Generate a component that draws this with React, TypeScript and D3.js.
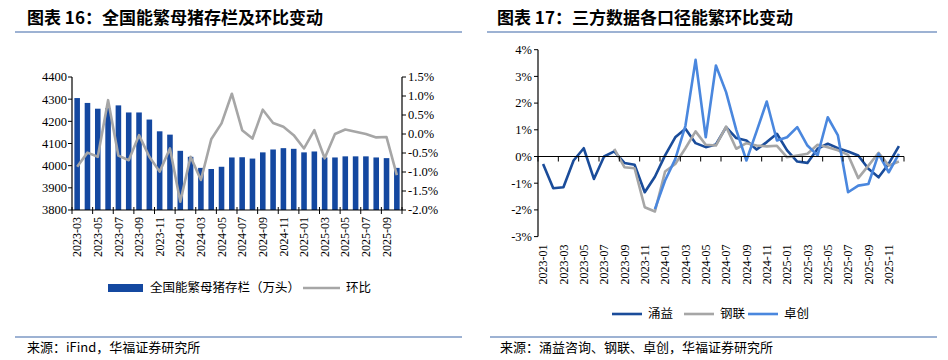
import React from 'react';
import * as d3 from 'd3';

// 图表16：全国能繁母猪存栏（万头）及环比（%）
const sowMonths = [
  '2023-03', '2023-04', '2023-05', '2023-06', '2023-07', '2023-08', '2023-09', '2023-10',
  '2023-11', '2023-12', '2024-01', '2024-02', '2024-03', '2024-04', '2024-05', '2024-06',
  '2024-07', '2024-08', '2024-09', '2024-10', '2024-11', '2024-12', '2025-01', '2025-02',
  '2025-03', '2025-04', '2025-05', '2025-06', '2025-07', '2025-08', '2025-09', '2025-10',
];
const sowStock = [
  4305, 4283, 4257, 4260, 4272, 4240, 4240, 4208, 4155, 4140, 4067, 4040, 3990, 3985, 3995, 4037,
  4038, 4032, 4060, 4073, 4079, 4076, 4060, 4064, 4037, 4037, 4042, 4042, 4042, 4037, 4034, 3990,
];
const sowMoM = [
  -0.86, -0.49, -0.6, 0.89, -0.57, -0.69, -0.03, -0.6, -0.99, -0.38, -1.78, -0.6, -1.21, -0.14, 0.28, 1.06,
  0.1, -0.12, 0.64, 0.29, 0.19, -0.03, -0.38, 0.1, -0.64, 0.0, 0.12, 0.06, 0.0, -0.09, -0.08, -1.08,
];
const leftTicks = [3800, 3900, 4000, 4100, 4200, 4300, 4400];
const rightTicks = [-2.0, -1.5, -1.0, -0.5, 0.0, 0.5, 1.0, 1.5];

// 图表17：三方数据环比（%）
const srcMonths = [
  '2023-01', '2023-02', '2023-03', '2023-04', '2023-05', '2023-06', '2023-07', '2023-08', '2023-09',
  '2023-10', '2023-11', '2023-12', '2024-01', '2024-02', '2024-03', '2024-04', '2024-05', '2024-06',
  '2024-07', '2024-08', '2024-09', '2024-10', '2024-11', '2024-12', '2025-01', '2025-02', '2025-03',
  '2025-04', '2025-05', '2025-06', '2025-07', '2025-08', '2025-09', '2025-10', '2025-11', '2025-12',
];
const yongyi = [
  -0.28, -1.19, -1.15, -0.15, 0.31, -0.84, 0.0, 0.19, -0.24, -0.31, -1.34, -0.76,
  0.04, 0.72, 1.04, 0.5, 0.35, 0.45, 1.1, 0.69, 0.6, 0.26, 0.54, 0.85,
  0.23, -0.19, -0.24, 0.29, 0.48, 0.31, 0.19, 0.04, -0.46, -0.78, -0.27, 0.39,
];
const ganglian = [
  null, null, null, null, null, null, null, 0.29, -0.4, -0.44, -1.9, -2.06,
  -0.56, -0.28, 0.31, 0.94, 0.44, 0.41, 1.12, 0.29, 0.5, 0.41, 0.38, 0.4,
  -0.03, 0.04, 0.1, 0.44, 0.35, 0.23, 0.06, -0.81, -0.34, 0.14, -0.34, -0.19,
];
const zhuochuang = [
  null, null, null, null, null, null, null, null, null, null, null, -1.97,
  -0.9, -0.1, 1.15, 3.62, 0.72, 3.41, 2.41, 1.0, -0.15, 0.94, 2.06, 0.6,
  0.72, 1.1, 0.41, 0.04, 1.47, 0.79, -1.34, -1.09, -1.03, 0.1, -0.59, 0.1,
];
const pctTicks = [-3, -2, -1, 0, 1, 2, 3, 4];

const SERIF = '"Liberation Serif", "Times New Roman", "Noto Sans CJK SC", serif';
const CJK = '"Noto Sans CJK SC", "Liberation Serif", sans-serif';
const BAR = '#1448A0';
const GREY = '#A6A6A6';
const DARK = '#1A4C9A';
const LIGHT = '#4A87DE';
const RULE = '#7D98C4';

function LeftChart() {
  const x0 = 72, x1 = 402, yTop = 77, yBot = 210;
  const x = d3.scaleBand<string>().domain(sowMonths).range([x0, x1]).paddingInner(0.46).paddingOuter(0.23);
  const yL = d3.scaleLinear().domain([3800, 4400]).range([yBot, yTop]);
  const yR = d3.scaleLinear().domain([-2.0, 1.5]).range([yBot, yTop]);
  const step = x.step();
  const line = d3.line<number>()
    .x((_, i) => (x(sowMonths[i]) as number) + x.bandwidth() / 2)
    .y((d) => yR(d));
  const boundaries = d3.range(0, sowMonths.length + 1, 2);
  return (
    <g>
      {sowMonths.map((m, i) => (
        <rect key={m} x={x(m)} y={yL(sowStock[i])} width={x.bandwidth()} height={yBot - yL(sowStock[i])} fill={BAR} />
      ))}
      <path d={line(sowMoM) || ''} fill="none" stroke={GREY} strokeWidth={2.6} strokeLinejoin="round" />
      {/* left axis */}
      <line x1={x0} x2={x0} y1={yTop} y2={yBot} stroke="#000" strokeWidth={1.2} />
      {leftTicks.map((t) => (
        <g key={t}>
          <line x1={x0 - 4} x2={x0} y1={yL(t)} y2={yL(t)} stroke="#000" />
          <text x={x0 - 5} y={yL(t)} dy="0.35em" textAnchor="end" fontSize={12.5} fontFamily={SERIF}>{t}</text>
        </g>
      ))}
      {/* right axis */}
      <line x1={x1} x2={x1} y1={yTop} y2={yBot} stroke="#000" strokeWidth={1.2} />
      {rightTicks.map((t) => (
        <g key={t}>
          <line x1={x1} x2={x1 + 4} y1={yR(t)} y2={yR(t)} stroke="#000" />
          <text x={x1 + 6} y={yR(t)} dy="0.35em" textAnchor="start" fontSize={12.5} fontFamily={SERIF}>{t.toFixed(1) + '%'}</text>
        </g>
      ))}
      {/* x axis */}
      <line x1={x0} x2={x1} y1={yBot} y2={yBot} stroke="#000" strokeWidth={1.2} />
      {boundaries.map((b) => (
        <line key={b} x1={x0 + b * step} x2={x0 + b * step} y1={yBot - 3} y2={yBot + 4} stroke="#000" />
      ))}
      {sowMonths.map((m, i) => i % 2 === 0 && (
        <text key={m} transform={`translate(${(x(m) as number) + x.bandwidth() / 2},${yBot + 7}) rotate(-90)`}
          dy="0.35em" textAnchor="end" fontSize={12} fontFamily={SERIF}>{m}</text>
      ))}
      {/* legend */}
      <rect x={108} y={284} width={35} height={8} fill={BAR} />
      <text x={150} y={288} dy="0.35em" fontSize={12.5} fontFamily={CJK}>全国能繁母猪存栏（万头）</text>
      <line x1={303} x2={340} y1={288} y2={288} stroke={GREY} strokeWidth={2.6} />
      <text x={346} y={288} dy="0.35em" fontSize={12.5} fontFamily={CJK}>环比</text>
    </g>
  );
}

function RightChart() {
  const x0 = 538, x1 = 904, yTop = 49.7, yBot = 236.6;
  const x = d3.scaleBand<string>().domain(srcMonths).range([x0, x1]);
  const y = d3.scaleLinear().domain([-3, 4]).range([yBot, yTop]);
  const step = x.step();
  const cx = (i: number) => (x(srcMonths[i]) as number) + step / 2;
  const line = d3.line<number | null>()
    .defined((d) => d !== null)
    .x((_, i) => cx(i))
    .y((d) => y(d as number));
  const series = [
    { name: '涌益', data: yongyi, color: DARK },
    { name: '钢联', data: ganglian, color: GREY },
    { name: '卓创', data: zhuochuang, color: LIGHT },
  ];
  const y0 = y(0);
  const boundaries = d3.range(0, srcMonths.length + 1, 2);
  const legendX = [612, 684, 748];
  const legendY = 314;
  return (
    <g>
      {series.map((s) => (
        <path key={s.name} d={line(s.data) || ''} fill="none" stroke={s.color} strokeWidth={2.6} strokeLinejoin="round" />
      ))}
      <line x1={x0} x2={x0} y1={yTop} y2={yBot} stroke="#000" strokeWidth={1.2} />
      {pctTicks.map((t) => (
        <g key={t}>
          <line x1={x0 - 4} x2={x0} y1={y(t)} y2={y(t)} stroke="#000" />
          <text x={x0 - 6} y={y(t)} dy="0.35em" textAnchor="end" fontSize={12.5} fontFamily={SERIF}>{t + '%'}</text>
        </g>
      ))}
      <line x1={x0} x2={x1} y1={y0} y2={y0} stroke="#000" strokeWidth={1.2} />
      {boundaries.map((b) => (
        <line key={b} x1={x0 + b * step} x2={x0 + b * step} y1={y0} y2={y0 + 5} stroke="#000" />
      ))}
      {srcMonths.map((m, i) => i % 2 === 0 && (
        <text key={m} transform={`translate(${cx(i)},${yBot + 8}) rotate(-90)`}
          dy="0.35em" textAnchor="end" fontSize={12} fontFamily={SERIF}>{m}</text>
      ))}
      {series.map((s, i) => (
        <g key={s.name}>
          <line x1={legendX[i]} x2={legendX[i] + 30} y1={legendY} y2={legendY} stroke={s.color} strokeWidth={2.6} />
          <text x={legendX[i] + 36} y={legendY} dy="0.35em" fontSize={12.5} fontFamily={CJK}>{s.name}</text>
        </g>
      ))}
    </g>
  );
}

export default function App() {
  return (
    <div style={{ position: 'absolute', left: 0, top: 0 }}>
      <svg width={948} height={360} style={{ display: 'block', background: '#fff' }}>
        <text x={27} y={24} fontSize={17} fontWeight="bold" fontFamily={CJK}>图表 16：全国能繁母猪存栏及环比变动</text>
        <line x1={15} x2={462} y1={32} y2={32} stroke={RULE} strokeWidth={1.5} />
        <text x={497} y={24} fontSize={17} fontWeight="bold" fontFamily={CJK}>图表 17：三方数据各口径能繁环比变动</text>
        <line x1={487} x2={937} y1={32} y2={32} stroke={RULE} strokeWidth={1.5} />
        <LeftChart />
        <RightChart />
        <line x1={15} x2={462} y1={337} y2={337} stroke={RULE} strokeWidth={1.5} />
        <line x1={490} x2={937} y1={337} y2={337} stroke={RULE} strokeWidth={1.5} />
        <text x={27} y={352} fontSize={13} fontFamily={CJK}>来源：iFind，华福证券研究所</text>
        <text x={500} y={352} fontSize={13} fontFamily={CJK}>来源：涌益咨询、钢联、卓创，华福证券研究所</text>
      </svg>
    </div>
  );
}
